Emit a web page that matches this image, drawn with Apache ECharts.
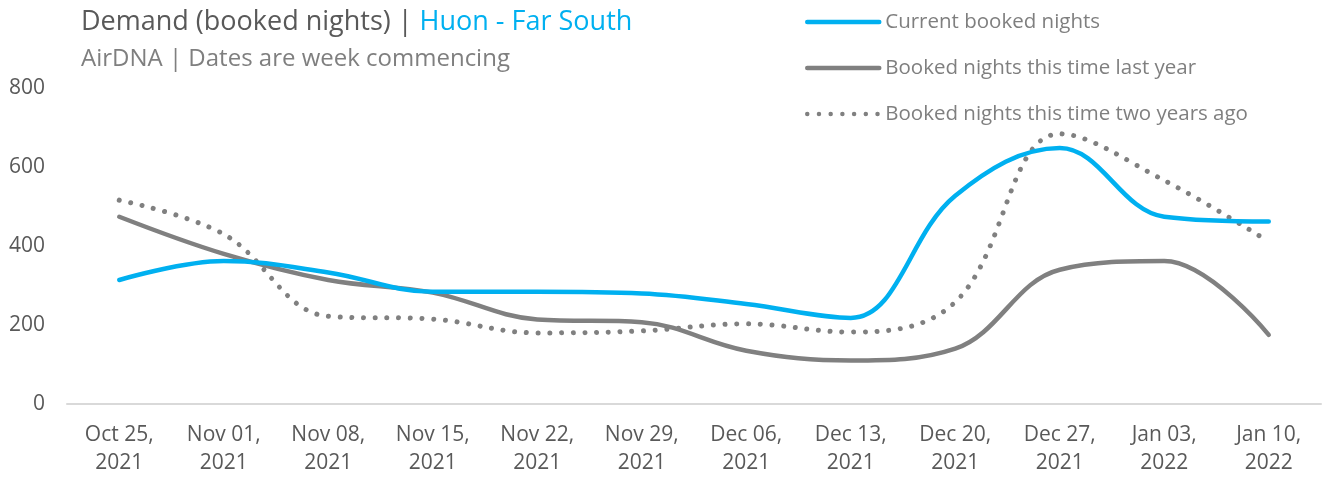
<!DOCTYPE html>
<html>
<head>
<meta charset="utf-8">
<script src="https://cdn.jsdelivr.net/npm/echarts@6/dist/echarts.min.js"></script>
<style>
html,body{margin:0;padding:0;background:#fff;}
#chart{width:1325px;height:477px;}
</style>
</head>
<body>
<div id="chart"></div>
<script>
var categories = ['Oct 25,\n2021','Nov 01,\n2021','Nov 08,\n2021','Nov 15,\n2021','Nov 22,\n2021','Nov 29,\n2021','Dec 06,\n2021','Dec 13,\n2021','Dec 20,\n2021','Dec 27,\n2021','Jan 03,\n2022','Jan 10,\n2022'];
var currentBooked = [314, 362, 333, 284, 284, 280, 253, 218, 527, 648, 474, 462];
var lastYearBooked = [474, 380, 314, 282, 214, 207, 135, 110, 140, 340, 362, 175];
var twoYearsAgoBooked = [516, 430, 222, 215, 180, 185, 203, 182, 258, 684, 566, 411];
var seriesNames = ['Current booked nights','Booked nights this time last year','Booked nights this time two years ago'];
var yTicks = {min: 0, max: 800, interval: 200};

var FONT = 'Open Sans';
var chart = echarts.init(document.getElementById('chart'), null, {renderer: 'canvas'});
chart.setOption({
  animation: false,
  backgroundColor: '#ffffff',
  textStyle: {fontFamily: FONT},
  title: [{
    text: '{a|Demand (booked nights) | }{b|Huon - Far South}',
    left: 81, top: 9, padding: 0,
    textStyle: {
      fontFamily: FONT, fontWeight: 'normal',
      rich: {
        a: {fontFamily: FONT, fontSize: 27, fontWeight: 'normal', color: '#595959'},
        b: {fontFamily: FONT, fontSize: 27, fontWeight: 'normal', color: '#00b0f0'}
      }
    }
  }, {
    text: 'AirDNA | Dates are week commencing',
    left: 81, top: 47, padding: 0,
    textStyle: {fontFamily: FONT, fontSize: 24, fontWeight: 'normal', color: '#7f7f7f'}
  }],
  legend: {
    orient: 'vertical',
    left: 805, top: 10, padding: 0,
    itemWidth: 72, itemHeight: 14, itemGap: 22,
    data: seriesNames,
    itemStyle: {opacity: 0},
    lineStyle: {width: 4.5, cap: 'round'},
    textStyle: {fontFamily: FONT, fontSize: 20.5, color: '#7f7f7f', lineHeight: 24, padding: [0, 0, 0, 1]}
  },
  grid: {left: 67, right: 4, top: 88, bottom: 73, containLabel: false},
  xAxis: {
    type: 'category',
    data: categories,
    boundaryGap: true,
    axisLine: {show: true, lineStyle: {color: '#d9d9d9', width: 2}},
    axisTick: {show: false},
    axisLabel: {interval: 0, fontFamily: FONT, fontSize: 21, color: '#595959', lineHeight: 28, margin: 17}
  },
  yAxis: {
    type: 'value',
    min: yTicks.min, max: yTicks.max, interval: yTicks.interval,
    axisLine: {show: false},
    axisTick: {show: false},
    splitLine: {show: false},
    axisLabel: {fontFamily: FONT, fontSize: 21, color: '#595959', margin: 22}
  },
  series: [{
    name: seriesNames[0], type: 'line', data: currentBooked,
    smooth: 0.38, symbol: 'none', z: 3,
    itemStyle: {color: '#00b0f0'},
    lineStyle: {color: '#00b0f0', width: 4.5, cap: 'round', join: 'round'}
  }, {
    name: seriesNames[1], type: 'line', data: lastYearBooked,
    smooth: 0.38, symbol: 'none', z: 2,
    itemStyle: {color: '#808080'},
    lineStyle: {color: '#808080', width: 4.5, cap: 'round', join: 'round'}
  }, {
    name: seriesNames[2], type: 'line', data: twoYearsAgoBooked,
    smooth: 0.38, symbol: 'none', z: 1,
    itemStyle: {color: '#808080'},
    lineStyle: {color: '#808080', width: 5, type: [0.01, 11.7], cap: 'round', join: 'round'}
  }]
});
</script>
</body>
</html>
